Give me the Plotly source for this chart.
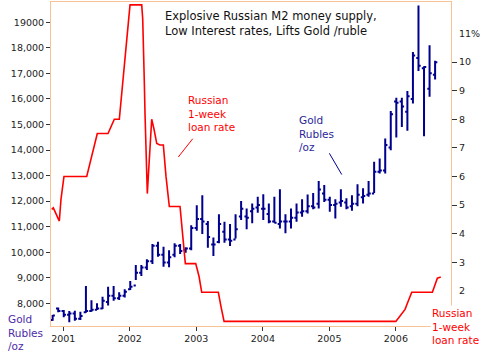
import plotly.graph_objects as go

# ---- data ----
gold_high = [7540, 7840, 7740, 7700, 7710, 7670, 8680, 8120, 8000, 8260,
             8650, 8680, 8430, 8550, 8870, 9500, 9500, 9720, 10320, 10410,
             10210, 10080, 10350, 10320, 10190, 11060, 11840, 12230, 11220, 10580,
             11490, 11190, 11100, 11490, 12000, 11710, 11910, 12170, 12270, 11910,
             12170, 12460, 11490, 11710, 11910, 12070, 12260, 12320, 12790, 12630,
             12170, 12070, 12460, 12110, 12230, 12660, 12500, 12790, 13540, 13670,
             14450, 15530, 16050, 16050, 16310, 17840, 19660, 17280, 18100, 17490]
gold_low = [7320, 7650, 7450, 7260, 7320, 7350, 7630, 7670, 7740, 7780,
            7910, 8100, 8130, 8230, 8520, 8910, 9070, 9300, 9540, 9820,
            9430, 9410, 9800, 9930, 9980, 10080, 10840, 10710, 10170, 9850,
            10350, 10370, 10240, 10540, 11260, 10900, 11130, 11540, 11260, 11130,
            11150, 10930, 10740, 10930, 11190, 11390, 11520, 11680, 11710, 11970,
            11580, 11320, 11780, 11680, 11620, 11800, 11910, 12170, 12320, 13080,
            13080, 13990, 14490, 14900, 14750, 15820, 17090, 14540, 16080, 16760]
gold_open = [7350, 7800, 7700, 7550, 7600, 7400, 7650, 7700, 7750, 7800,
             8050, 8300, 8200, 8300, 8550, 8700, 9200, 9400, 9650, 10250,
             9900, 9600, 9900, 10250, 10100, 10150, 10950, 11300, 11100, 10300,
             10400, 10800, 10500, 10500, 11400, 11400, 11600, 11750, 11700, 11500,
             11200, 11100, 11200, 11200, 11350, 11550, 11600, 11800, 11900, 12300,
             12050, 11850, 11950, 11950, 11800, 11900, 12150, 12250, 12300, 13150,
             13200, 14100, 15900, 15900, 15500, 16000, 17600, 17200, 16400, 16950]
gold_close = [7520, 7700, 7550, 7600, 7400, 7500, 7700, 7750, 7800, 8100,
              8300, 8200, 8300, 8450, 8650, 9200, 9400, 9650, 10250, 9900,
              9600, 9800, 10250, 10050, 10150, 10950, 11300, 11200, 10600, 10300,
              11100, 10500, 10450, 10900, 11700, 11350, 11700, 11850, 11700, 11200,
              11150, 11200, 11200, 11350, 11550, 11600, 11800, 11750, 12450, 12050,
              11850, 11900, 12000, 11750, 11900, 12250, 12200, 12300, 13150, 13200,
              14200, 15400, 15850, 15700, 16100, 17700, 17300, 17250, 17000, 17430]
gold_x = [2000.84 + i / 12 for i in range(len(gold_high))]

rate_x = [2000.826, 2000.850, 2000.940, 2000.965, 2001.010, 2001.352, 2001.511,
          2001.672, 2001.767, 2001.842, 2002.003, 2002.179, 2002.194, 2002.203,
          2002.218, 2002.229, 2002.239, 2002.254, 2002.263, 2002.278, 2002.304,
          2002.329, 2002.364, 2002.405, 2002.454, 2002.504, 2002.544, 2002.570,
          2002.594, 2002.755, 2002.789, 2002.820, 2002.835, 2002.991, 2003.041,
          2003.081, 2003.331, 2003.371, 2003.417, 2006.000, 2006.063, 2006.138,
          2006.188, 2006.239, 2006.549, 2006.589, 2006.624, 2006.675]
rate_y = [4.85, 4.9, 4.44, 5.2, 6.0, 6.0, 7.5,
          7.5, 8.0, 8.0, 12.0, 12.0, 11.5, 10.1,
          9.3, 8.15, 7.1, 6.0, 5.4, 6.0, 7.0,
          8.0, 7.65, 7.15, 7.1, 7.1, 6.0, 5.3,
          4.95, 4.95, 4.0, 3.2, 2.95, 2.95, 2.5,
          1.95, 1.95, 1.45, 0.93, 0.93, 1.12, 1.35,
          1.65, 1.95, 1.95, 2.2, 2.44, 2.48]

year_ticks = [2001, 2002, 2003, 2004, 2005, 2006]
left_ticks = [8000, 9000, 10000, 11000, 12000, 13000, 14000, 15000, 16000, 17000, 18000, 19000]
left_text = ["8,000", "9,000", "10,000", "11,000", "12,000", "13,000", "14,000",
             "15,000", "16,000", "17,000", "18,000", "19000"]
right_ticks = [3, 4, 5, 6, 7, 8, 9, 10]
right_extra = [2, 11]
right_extra_text = ["2", "11%"]

NAVY = "#00008f"
RED = "#ff0000"
PEACH = "#f7c395"
FONT = "DejaVu Sans"
TICKFONT = dict(family=FONT, size=9.5, color="#222222")

fig = go.Figure()
fig.add_trace(go.Ohlc(
    x=gold_x, open=gold_open, high=gold_high, low=gold_low, close=gold_close,
    increasing=dict(line=dict(color=NAVY, width=2)),
    decreasing=dict(line=dict(color=NAVY, width=2)),
    tickwidth=0.4, yaxis="y", showlegend=False, hoverinfo="skip"))
fig.add_trace(go.Scatter(
    x=rate_x, y=rate_y, mode="lines", line=dict(color=RED, width=1.6),
    yaxis="y2", showlegend=False, hoverinfo="skip"))
fig.add_trace(go.Scatter(
    x=[2003], y=[5], mode="markers", marker=dict(opacity=0),
    yaxis="y3", showlegend=False, hoverinfo="skip"))

fig.update_layout(
    width=488, height=357,
    margin=dict(l=51, r=37, t=2, b=31, autoexpand=False),
    paper_bgcolor="white", plot_bgcolor="white",
    showlegend=False,
    xaxis=dict(range=[2000.815, 2006.829], tickvals=year_ticks,
               ticktext=[str(y) for y in year_ticks],
               ticks="outside", ticklen=4, tickcolor="#333333",
               showline=True, linecolor=PEACH, linewidth=1, mirror=True,
               showgrid=False, zeroline=False, tickfont=TICKFONT,
               rangeslider=dict(visible=False)),
    yaxis=dict(range=[7112, 19793], tickvals=left_ticks, ticktext=left_text,
               ticks="outside", ticklen=4, tickcolor="#333333",
               showline=True, linecolor=PEACH, linewidth=1, mirror=True,
               showgrid=False, zeroline=False, tickfont=TICKFONT),
    yaxis2=dict(range=[0.77, 12.1], overlaying="y", side="right",
                tickvals=right_ticks, ticks="outside", ticklen=5,
                tickcolor="#333333", showline=False, showgrid=False,
                zeroline=False, tickfont=TICKFONT),
    yaxis3=dict(range=[0.77, 12.1], overlaying="y", side="right",
                tickvals=right_extra, ticktext=right_extra_text,
                ticks="outside", ticklen=5, tickcolor="rgba(0,0,0,0)",
                showline=False, showgrid=False, zeroline=False,
                tickfont=TICKFONT),
)

ann_font = dict(family=FONT, size=10.5)
fig.add_annotation(x=2002.499, y=18959, xref="x", yref="y", xanchor="left",
                   yanchor="middle", align="left", showarrow=False,
                   text="Explosive Russian M2 money supply,<br>Low Interest rates, Lifts Gold /ruble",
                   font=dict(family=FONT, size=11.5, color="#111111"))
fig.add_annotation(x=2002.848, y=15437, xref="x", yref="y", xanchor="left",
                   yanchor="middle", align="left", showarrow=False,
                   text="Russian<br>1-week<br>loan rate", font=dict(ann_font, color=RED))
fig.add_annotation(x=2004.519, y=14627, xref="x", yref="y", xanchor="left",
                   yanchor="middle", align="left", showarrow=False,
                   text="Gold<br>Rubles<br>/oz", font=dict(ann_font, color="#2a1f9a"))
fig.add_annotation(x=-0.1125, y=-0.02, xref="paper", yref="paper", xanchor="left",
                   yanchor="middle", align="left", showarrow=False,
                   text="Gold<br>Rubles<br>/oz", font=dict(ann_font, color="#4b2aa8"))
fig.add_annotation(x=0.948, y=-0.002, xref="paper", yref="paper", xanchor="left",
                   yanchor="middle", align="left", showarrow=False, bgcolor="white",
                   text="Russian<br>1-week<br>loan rate", font=dict(ann_font, color=RED))

fig.add_shape(type="line", xref="x", yref="y", x0=2002.729, y0=13726,
              x1=2002.946, y1=14442, line=dict(color=RED, width=1))
fig.add_shape(type="line", xref="x", yref="y", x0=2005.0, y0=13871,
              x1=2005.186, y1=13041, line=dict(color=NAVY, width=1))

fig.write_html("out.html", post_script="document.body.style.margin='0';",
               config={"displayModeBar": False, "staticPlot": True})
